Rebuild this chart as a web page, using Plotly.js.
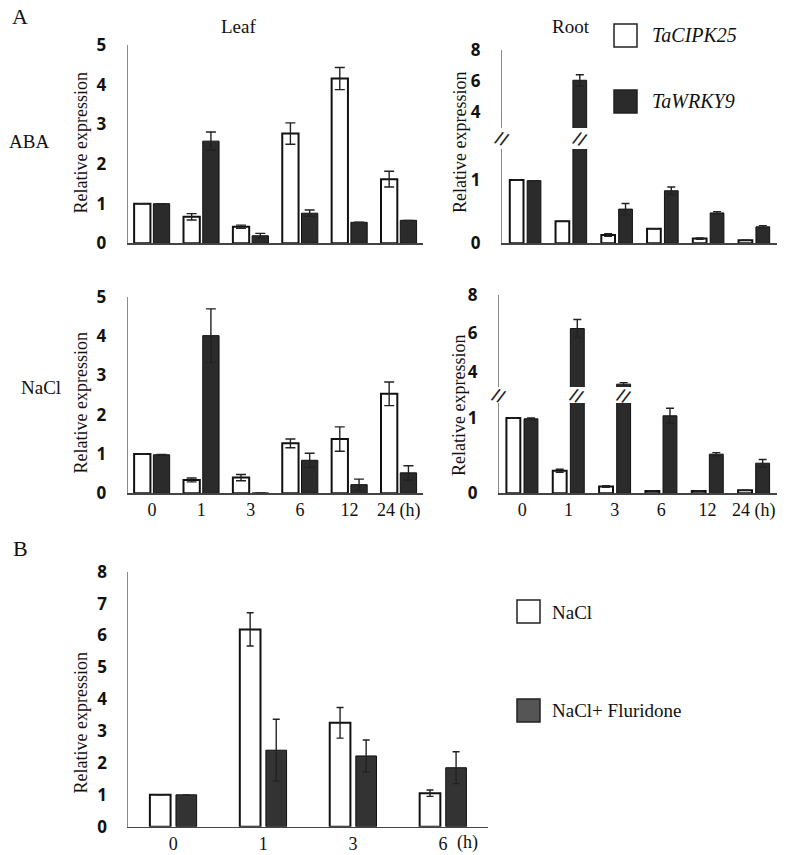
<!DOCTYPE html>
<html>
<head>
<meta charset="utf-8">
<script src="https://cdn.plot.ly/plotly-3.0.1.min.js"></script>
<style>
  html, body { margin: 0; padding: 0; background: #fff; }
  #fig { width: 787px; height: 855px; }
</style>
</head>
<body>
<div id="fig"></div>
<script>
// time points (h)
var hoursA = ['0', '1', '3', '6', '12', '24 (h)'];
var hoursB = ['0', '1', '3', '6'];

// A, ABA leaf
var abaLeafCipk = [1.0, 0.67, 0.42, 2.77, 4.16, 1.62];
var abaLeafCipkErr = [0, 0.08, 0.04, 0.27, 0.28, 0.20];
var abaLeafWrky = [1.0, 2.58, 0.19, 0.76, 0.53, 0.58];
var abaLeafWrkyErr = [0, 0.23, 0.06, 0.08, 0, 0];

// A, ABA root
var abaRootCipk = [1.0, 0.35, 0.13, 0.23, 0.075, 0.05];
var abaRootCipkErr = [0, 0, 0.02, 0, 0.01, 0];
var abaRootWrky = [0.99, 6.06, 0.54, 0.83, 0.48, 0.26];
var abaRootWrkyErr = [0, 0.35, 0.09, 0.06, 0.02, 0.02];

// A, NaCl leaf
var naclLeafCipk = [1.0, 0.34, 0.40, 1.27, 1.38, 2.53];
var naclLeafCipkErr = [0, 0.05, 0.08, 0.11, 0.31, 0.30];
var naclLeafWrky = [0.98, 4.01, 0.01, 0.84, 0.22, 0.52];
var naclLeafWrkyErr = [0.01, 0.68, 0, 0.18, 0.14, 0.18];

// A, NaCl root
var naclRootCipk = [1.0, 0.30, 0.09, 0.03, 0.03, 0.04];
var naclRootCipkErr = [0, 0.02, 0.01, 0, 0, 0];
var naclRootWrky = [0.99, 6.25, 3.35, 1.03, 0.52, 0.40];
var naclRootWrkyErr = [0.01, 0.47, 0.08, 0.10, 0.02, 0.05];

// B
var bNacl = [1.0, 6.19, 3.26, 1.05];
var bNaclErr = [0, 0.52, 0.48, 0.10];
var bFluridone = [1.0, 2.40, 2.22, 1.85];
var bFluridoneErr = [0, 0.97, 0.50, 0.50];

var W = 787, H = 855;
function px(x) { return x / W; }
function py(y) { return 1 - y / H; }

var SERIF = 'Liberation Serif';
var SANS = 'Open Sans';
var DARK = '#2b2b2b';

function idx(arr) { return arr.map(function (_, i) { return i; }); }

function barTrace(vals, errs, xa, ya, fill, off, w, capW, lineW) {
  return {
    type: 'bar', x: idx(vals), y: vals, xaxis: xa, yaxis: ya,
    offset: off, width: w,
    marker: {color: fill, line: {color: '#111', width: lineW}},
    error_y: {type: 'data', array: errs, visible: true, color: '#222', thickness: 1.4, width: capW},
    showlegend: false, hoverinfo: 'skip'
  };
}

var data = [];
// leaf panels: white / dark
data.push(barTrace(abaLeafCipk, abaLeafCipkErr, 'x', 'y', '#fff', -0.36, 0.33, 5, 2));
data.push(barTrace(abaLeafWrky, abaLeafWrkyErr, 'x', 'y', DARK, 0.03, 0.33, 5, 1));
data.push(barTrace(naclLeafCipk, naclLeafCipkErr, 'x3', 'y4', '#fff', -0.36, 0.33, 5, 2));
data.push(barTrace(naclLeafWrky, naclLeafWrkyErr, 'x3', 'y4', DARK, 0.03, 0.33, 5, 1));
// root panels: lower and upper part of the broken axis
['y2', 'y3'].forEach(function (ya) {
  data.push(barTrace(abaRootCipk, abaRootCipkErr, 'x2', ya, '#fff', -0.34, 0.30, 4, 2));
  data.push(barTrace(abaRootWrky, abaRootWrkyErr, 'x2', ya, DARK, 0.04, 0.30, 4, 1));
});
['y5', 'y6'].forEach(function (ya) {
  data.push(barTrace(naclRootCipk, naclRootCipkErr, 'x4', ya, '#fff', -0.34, 0.30, 4, 2));
  data.push(barTrace(naclRootWrky, naclRootWrkyErr, 'x4', ya, DARK, 0.04, 0.30, 4, 1));
});
// B
data.push(barTrace(bNacl, bNaclErr, 'x5', 'y7', '#fff', -0.26, 0.23, 3.5, 2));
data.push(barTrace(bFluridone, bFluridoneErr, 'x5', 'y7', '#333', 0.03, 0.23, 3.5, 1));

function xAxis(x0, x1, range, anchor, labels) {
  return {
    domain: [px(x0), px(x1)], range: range, anchor: anchor,
    showline: true, linecolor: '#444', linewidth: 1.5,
    showgrid: false, zeroline: false, ticks: '',
    tickvals: labels ? idx(labels) : [], ticktext: labels || [],
    showticklabels: !!labels, ticklabelstandoff: 0,
    tickfont: {family: SERIF, size: 18, color: '#111'}
  };
}
function yAxis(yBottom, yTop, range, anchor, ticks) {
  return {
    domain: [py(yBottom), py(yTop)], range: range, anchor: anchor,
    showline: true, linecolor: '#8a8a8a', linewidth: 1,
    showgrid: false, zeroline: false, ticks: '',
    tickvals: ticks, ticklabelstandoff: 17,
    tickfont: {family: SANS, size: 17, weight: 'bold', color: '#111'}
  };
}

var layout = {
  width: W, height: H,
  margin: {l: 0, r: 0, t: 0, b: 0},
  paper_bgcolor: '#fff', plot_bgcolor: 'rgba(0,0,0,0)',
  barmode: 'overlay', showlegend: false, hovermode: false,
  xaxis: xAxis(127.7, 423, [-0.49, 5.49], 'y', null),
  yaxis: yAxis(243.3, 45.3, [0, 5], 'x', [0, 1, 2, 3, 4, 5]),
  xaxis2: xAxis(502, 777, [-0.51, 5.5], 'y2', null),
  yaxis2: yAxis(243.3, 149, [0, 1.49], 'x2', [0, 1]),
  yaxis3: yAxis(128, 50, [3, 8], 'x2', [4, 6, 8]),
  xaxis3: xAxis(127.7, 423, [-0.49, 5.49], 'y4', hoursA),
  yaxis4: yAxis(493.3, 296.7, [0, 5], 'x3', [0, 1, 2, 3, 4, 5]),
  xaxis4: xAxis(499, 777, [-0.5, 5.5], 'y5', hoursA),
  yaxis5: yAxis(493.3, 403, [0, 1.2], 'x4', [0, 1]),
  yaxis6: yAxis(387, 295, [3.2, 8], 'x4', [4, 6, 8]),
  xaxis5: xAxis(128.3, 488, [-0.5, 3.5], 'y7', hoursB),
  yaxis7: yAxis(826.7, 571.7, [0, 8], 'x5', [0, 1, 2, 3, 4, 5, 6, 7, 8]),
  shapes: [], annotations: []
};

function label(text, x, y, size, opts) {
  var a = {
    text: text, x: px(x), y: py(y), xref: 'paper', yref: 'paper',
    showarrow: false, xanchor: 'center', yanchor: 'middle',
    font: {family: SERIF, size: size, color: '#111'}
  };
  for (var k in opts) a[k] = opts[k];
  layout.annotations.push(a);
}

label('A', 20, 17, 22);
label('B', 20, 548, 22);
label('Leaf', 238, 27, 19);
label('Root', 571, 27, 19);
label('ABA', 29, 141, 19);
label('NaCl', 41, 388, 19);

// y axis titles
[[80.5, 143], [460, 143], [80.5, 403], [459, 406], [80.5, 723]].forEach(function (p) {
  label('Relative expression', p[0], p[1], 18, {textangle: -90});
});

// "(h)" after the last tick of B
layout.annotations.push({
  text: '(h)', x: 3.13, xref: 'x5', y: py(842), yref: 'paper',
  xanchor: 'left', yanchor: 'middle', showarrow: false,
  font: {family: SERIF, size: 18, color: '#111'}
});

// axis break marks
function brk(x, xref, y) {
  layout.annotations.push({
    text: '<b>//</b>', x: x, xref: xref, y: py(y), yref: 'paper',
    showarrow: false, xanchor: 'center', yanchor: 'middle', textangle: 20,
    font: {family: 'DejaVu Sans', size: 16, color: '#222'}
  });
}
brk(px(502), 'paper', 138.5);
brk(1.19, 'x2', 138.5);
brk(px(499), 'paper', 395);
brk(1.19, 'x4', 395);
brk(2.19, 'x4', 395);

// legend boxes
function box(x0, y0, x1, y1, fill) {
  layout.shapes.push({
    type: 'rect', xref: 'paper', yref: 'paper',
    x0: px(x0), x1: px(x1), y0: py(y1), y1: py(y0),
    fillcolor: fill, line: {color: '#222', width: 1.5}
  });
}
box(614, 24, 637, 47, '#fff');
box(614, 90, 637, 113, DARK);
label('<i>TaCIPK25</i>', 650, 35, 20, {xanchor: 'left'});
label('<i>TaWRKY9</i>', 650, 101, 20, {xanchor: 'left'});
box(517, 600, 540, 623, '#fff');
box(517, 699, 540, 722, '#555');
label('NaCl', 550, 612, 19, {xanchor: 'left'});
label('NaCl+ Fluridone', 550, 710, 19, {xanchor: 'left'});

Plotly.newPlot('fig', data, layout, {displayModeBar: false, staticPlot: true});
</script>
</body>
</html>
